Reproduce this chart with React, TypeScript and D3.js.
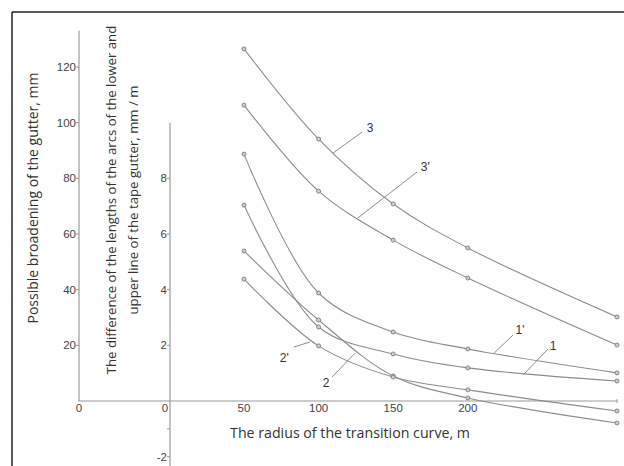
import React from "react";
import * as d3 from "d3";

// Data
const radii = [50, 100, 150, 200, 300];
// curves on the mm / m axis
const curve1 = [7.04, 2.66, 1.69, 1.19, 0.72];
const curve2 = [5.39, 2.91, 0.9, 0.11, -0.79];
const curve3 = [12.65, 9.41, 7.08, 5.5, 3.02];
// curves on the mm axis
const curve1p = [88.7, 38.8, 24.8, 18.7, 10.1];
const curve2p = [43.8, 19.8, 8.6, 4.0, -3.6];
const curve3p = [106.3, 75.4, 57.8, 44.2, 20.1];

const mmTicks = [20, 40, 60, 80, 100, 120];
const mmmTicks = [-2, 2, 4, 6, 8];
const mmmMinorTicks = [-1];
const xTicks = [50, 100, 150, 200];

// annotations: label, text position, leader line (x in m, y in mm)
const annLabels = ["3", "3'", "1'", "1", "2'", "2"];
const annText = [
  [134.5, 98.1],
  [171.5, 84.1],
  [235.0, 25.5],
  [257.1, 19.8],
  [77.0, 15.4],
  [105.0, 6.5],
];
const annLeader = [
  [109.7, 89.1, 129.1, 96.6],
  [126.4, 65.8, 166.0, 82.3],
  [217.6, 17.2, 230.3, 23.7],
  [237.7, 9.7, 253.8, 18.7],
  [83.5, 19.4, 94.2, 21.2],
  [109.0, 8.6, 124.4, 17.2],
];

const W = 624;
const H = 466;

export default function App() {
  const x = d3.scaleLinear().domain([50, 300]).range([244, 617]);
  const yMM = d3.scaleLinear().domain([0, 120]).range([401, 67]);
  const yMMM = d3.scaleLinear().domain([0, 12]).range([401, 67]);

  const line = (ys: number[], yS: d3.ScaleLinear<number, number>) =>
    d3
      .line<number>()
      .x((_, i) => x(radii[i]))
      .y((d) => yS(d))
      .curve(d3.curveCatmullRom.alpha(0.5))(ys) as string;

  const series = [
    { v: curve3, s: yMMM },
    { v: curve3p, s: yMM },
    { v: curve1p, s: yMM },
    { v: curve1, s: yMMM },
    { v: curve2, s: yMMM },
    { v: curve2p, s: yMM },
  ];

  const lineColor = "#8c8c8c";
  const axisColor = "#9a9a9a";
  const tickText = "#444";
  const leftX = 79;
  const midX = 170;
  const numFont = "Liberation Sans, Arial, sans-serif";
  const titleFont = "Open Sans, sans-serif";

  return (
    <svg
      width={W}
      height={H}
      style={{ position: "fixed", left: 0, top: 0, background: "#fff" }}
    >
      <rect x={0} y={0} width={W} height={H} fill="#fff" />
      {/* frame */}
      <line x1={12} y1={12} x2={W} y2={12} stroke="#222" strokeWidth={1.5} />
      <line x1={12} y1={12} x2={12} y2={H} stroke="#222" strokeWidth={1.5} />

      {/* axes */}
      <line x1={leftX} y1={yMM(133)} x2={leftX} y2={yMM(0)} stroke={axisColor} strokeWidth={1.2} />
      <line x1={midX} y1={yMMM(10)} x2={midX} y2={H} stroke={axisColor} strokeWidth={1.2} />
      <line x1={leftX - 1} y1={yMM(0)} x2={x(300)} y2={yMM(0)} stroke={axisColor} strokeWidth={1.2} />
      <line x1={x(300)} y1={yMM(0) - 2} x2={x(300)} y2={yMM(0) + 2} stroke={axisColor} strokeWidth={1} />

      {mmTicks.map((t) => (
        <g key={"l" + t}>
          <line x1={leftX - 3} x2={leftX} y1={yMM(t)} y2={yMM(t)} stroke={axisColor} />
          <text x={leftX - 3} y={yMM(t)} dy="0.35em" textAnchor="end" fontFamily={numFont} fontSize={11.5} fill={tickText}>
            {t}
          </text>
        </g>
      ))}
      {mmmTicks.map((t) => (
        <g key={"m" + t}>
          <line x1={midX - 3} x2={midX} y1={yMMM(t)} y2={yMMM(t)} stroke={axisColor} />
          <text x={midX - 3} y={yMMM(t)} dy="0.35em" textAnchor="end" fontFamily={numFont} fontSize={11.5} fill={tickText}>
            {t}
          </text>
        </g>
      ))}
      {mmmMinorTicks.map((t) => (
        <line key={"mm" + t} x1={midX - 3} x2={midX} y1={yMMM(t)} y2={yMMM(t)} stroke={axisColor} />
      ))}
      {/* zero labels */}
      <text x={leftX} y={yMM(0) + 7} dy="0.35em" textAnchor="middle" fontFamily={numFont} fontSize={11.5} fill={tickText}>0</text>
      <text x={midX - 5} y={yMM(0) + 7} dy="0.35em" textAnchor="middle" fontFamily={numFont} fontSize={11.5} fill={tickText}>0</text>
      {xTicks.map((t) => (
        <text key={"x" + t} x={x(t)} y={yMM(0) + 7} dy="0.35em" textAnchor="middle" fontFamily={numFont} fontSize={11.5} fill={tickText}>
          {t}
        </text>
      ))}

      {/* titles */}
      <text transform={`translate(33,198) rotate(-90)`} textAnchor="middle" dy="0.35em" fontFamily={titleFont} fontSize={14} fill="#333">
        Possible broadening of the gutter, mm
      </text>
      <text transform={`translate(111,200) rotate(-90)`} textAnchor="middle" dy="0.35em" fontFamily={titleFont} fontSize={13.2} fill="#333">
        The difference of the lengths of the arcs of the lower and
      </text>
      <text transform={`translate(133,200) rotate(-90)`} textAnchor="middle" dy="0.35em" fontFamily={titleFont} fontSize={13.2} fill="#333">
        upper line of the tape gutter, mm / m
      </text>
      <text x={350} y={433} dy="0.35em" textAnchor="middle" fontFamily={titleFont} fontSize={14.2} fill="#333">
        The radius of the transition curve, m
      </text>

      {/* curves */}
      {series.map((s, i) => (
        <path key={"c" + i} d={line(s.v, s.s)} fill="none" stroke={lineColor} strokeWidth={1.1} />
      ))}
      {series.map((s, i) =>
        s.v.map((v, j) => (
          <circle
            key={"p" + i + "-" + j}
            cx={x(radii[j])}
            cy={s.s(v)}
            r={2}
            fill="#d0d0d0"
            stroke="#7a7a7a"
            strokeWidth={0.9}
          />
        ))
      )}

      {/* annotations */}
      {annLabels.map((lab, i) => (
        <g key={"a" + i}>
          <line
            x1={x(annLeader[i][0])}
            y1={yMM(annLeader[i][1])}
            x2={x(annLeader[i][2])}
            y2={yMM(annLeader[i][3])}
            stroke={lineColor}
            strokeWidth={1}
          />
          <text x={x(annText[i][0])} y={yMM(annText[i][1])} dy="0.35em" textAnchor="middle" fontFamily={numFont} fontSize={12} fill="#333">
            {lab}
          </text>
        </g>
      ))}
    </svg>
  );
}
